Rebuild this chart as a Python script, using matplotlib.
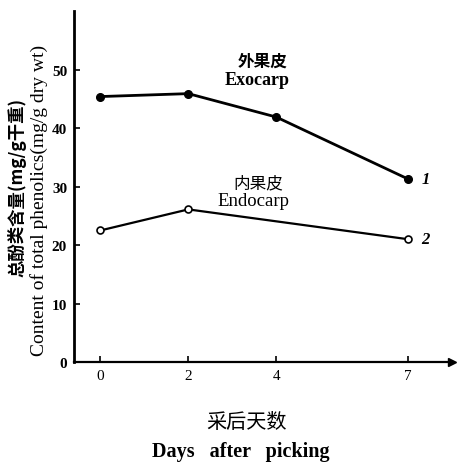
import matplotlib
matplotlib.use("Agg")
import matplotlib.pyplot as plt

plt.rcParams['font.family'] = ['Liberation Serif', 'Noto Sans CJK SC', 'DejaVu Sans']

days_exo = [0, 2, 4, 7]
exocarp = [45.4, 45.9, 41.9, 31.3]
days_endo = [0, 2, 7]
endocarp = [22.5, 26.1, 21.0]
x_ticks = [0, 2, 4, 7]
y_ticks = [0, 10, 20, 30, 40, 50]

fig = plt.figure(figsize=(4.57, 4.64), dpi=100)
ax = fig.add_axes([0.162, 0.2177, 0.827, 0.756])
ax.set_xlim(-0.6, 8.0)
ax.set_ylim(0, 60)

ax.plot(days_exo, exocarp, color='black', lw=2.0, marker='o', ms=5.5,
        markerfacecolor='black', markeredgecolor='black', clip_on=False)
ax.plot(days_endo, endocarp, color='black', lw=1.6, marker='o', ms=5,
        markerfacecolor='white', markeredgecolor='black', markeredgewidth=1.2,
        clip_on=False)

ax.text(7.3, exocarp[-1], '1', fontsize=12, fontweight='bold', style='italic',
        va='center', ha='left')
ax.text(7.3, endocarp[-1], '2', fontsize=12, fontweight='bold', style='italic',
        va='center', ha='left')

ax.text(3.68, 51.5, '外果皮', fontsize=12, fontweight='bold', ha='center', va='center',
        family=['Noto Sans CJK SC'])
ax.text(3.57, 48.3, 'Exocarp', fontsize=13, fontweight='bold', ha='center', va='center')
ax.text(3.59, 30.6, '内果皮', fontsize=12, ha='center', va='center',
        family=['Noto Sans CJK SC'])
ax.text(3.48, 27.7, 'Endocarp', fontsize=13.5, ha='center', va='center')

for s in ['top', 'right']:
    ax.spines[s].set_visible(False)
ax.spines['left'].set_linewidth(2.0)
ax.spines['bottom'].set_linewidth(1.6)
ax.plot(1, 0, '>', color='black', ms=6, transform=ax.transAxes, clip_on=False)

ax.set_xticks(x_ticks)
ax.set_xticklabels([str(v) for v in x_ticks], fontsize=11)
ax.set_yticks(y_ticks)
ax.set_yticklabels([str(v) for v in y_ticks], fontsize=11, fontweight='bold')
ax.tick_params(axis='both', direction='in', length=4, width=1.2, pad=5)

fig.text(0.038, 0.595, '总酚类含量(mg/g干重)', rotation=90, fontsize=12.5,
         fontweight='bold', ha='center', va='center', family=['Noto Sans CJK SC'])
fig.text(0.086, 0.567, 'Content of total phenolics(mg/g dry wt)', rotation=90,
         fontsize=14, ha='center', va='center')

fig.text(0.54, 0.09, '采后天数', fontsize=14.5, ha='center', va='center',
         family=['Noto Sans CJK SC'])
fig.text(0.527, 0.026, 'Days   after   picking', fontsize=14.5,
         fontweight='bold', ha='center', va='center')

fig.savefig('out.png', dpi=100)
